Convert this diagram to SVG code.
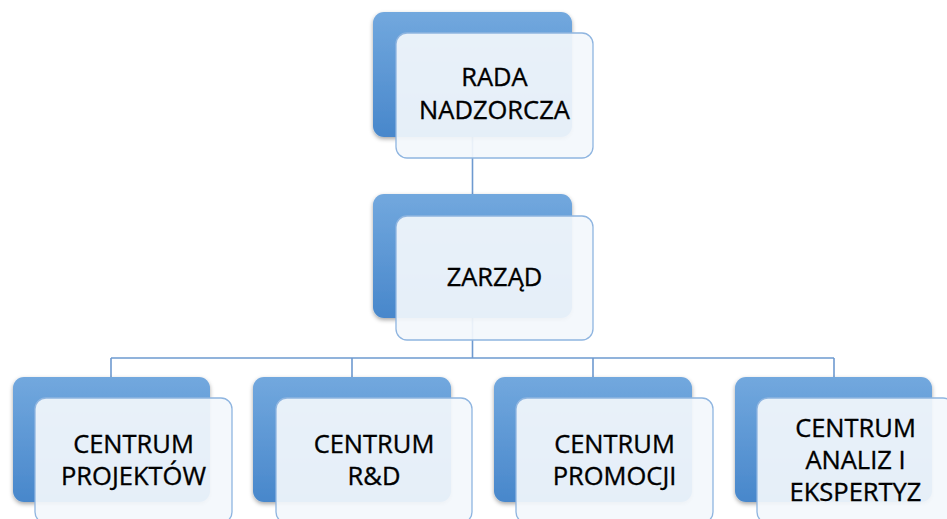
<svg xmlns="http://www.w3.org/2000/svg" width="947" height="519" viewBox="0 0 947 519">
<defs>
<linearGradient id="bg" x1="0" y1="0" x2="0" y2="1">
<stop offset="0" stop-color="#72A8DE"/>
<stop offset="1" stop-color="#4887CB"/>
</linearGradient>
<filter id="sh" x="-10%" y="-10%" width="120%" height="130%">
<feDropShadow dx="0" dy="2" stdDeviation="2" flood-color="#000" flood-opacity="0.35"/>
</filter>
</defs>
<style>
.back{fill:url(#bg);filter:url(#sh)}
.front{fill:#F3F7FC;fill-opacity:0.92;stroke:#8FB5E0;stroke-width:1.3}
.conn{fill:none;stroke:#6E9AD0;stroke-width:1.6}
text{font-family:"Open Sans","Noto Sans","Liberation Sans",sans-serif;font-size:25.5px;fill:#000;stroke:#000;stroke-width:0.35;text-anchor:middle}
</style>
<rect width="947" height="519" fill="#fff"/>
<g id="connectors">
<path class="conn" d="M472.5 120V194M472.5 300V358M111 358H834M111 358V377M352 358V377M593 358V377M834 358V377"/>
</g>
<g id="rada">
<rect class="back" x="373" y="12" width="199" height="125" rx="11"/>
<rect class="front" x="396" y="33" width="197" height="125" rx="11"/>
<text x="494.5" y="86">RADA</text>
<text x="494.5" y="119">NADZORCZA</text>
</g>
<g id="zarzad">
<rect class="back" x="373" y="194" width="199" height="124" rx="11"/>
<rect class="front" x="396" y="216" width="197" height="124" rx="11"/>
<text x="494.5" y="286">ZARZĄD</text>
</g>
<g id="projektow">
<rect class="back" x="13" y="377" width="197" height="125" rx="11"/>
<rect class="front" x="35" y="398" width="197" height="125" rx="11"/>
<text x="133.5" y="453">CENTRUM</text>
<text x="133.5" y="485">PROJEKTÓW</text>
</g>
<g id="rd">
<rect class="back" x="253" y="377" width="198" height="125" rx="11"/>
<rect class="front" x="276" y="398" width="196" height="125" rx="11"/>
<text x="374" y="453">CENTRUM</text>
<text x="374" y="485">R&amp;D</text>
</g>
<g id="promocji">
<rect class="back" x="494" y="377" width="198" height="125" rx="11"/>
<rect class="front" x="516" y="398" width="197" height="125" rx="11"/>
<text x="614.5" y="453">CENTRUM</text>
<text x="614.5" y="485">PROMOCJI</text>
</g>
<g id="analiz">
<rect class="back" x="735" y="377" width="197" height="125" rx="11"/>
<rect class="front" x="757" y="398" width="197" height="125" rx="11"/>
<text x="855.5" y="437">CENTRUM</text>
<text x="855.5" y="469">ANALIZ I</text>
<text x="855.5" y="501">EKSPERTYZ</text>
</g>
</svg>
